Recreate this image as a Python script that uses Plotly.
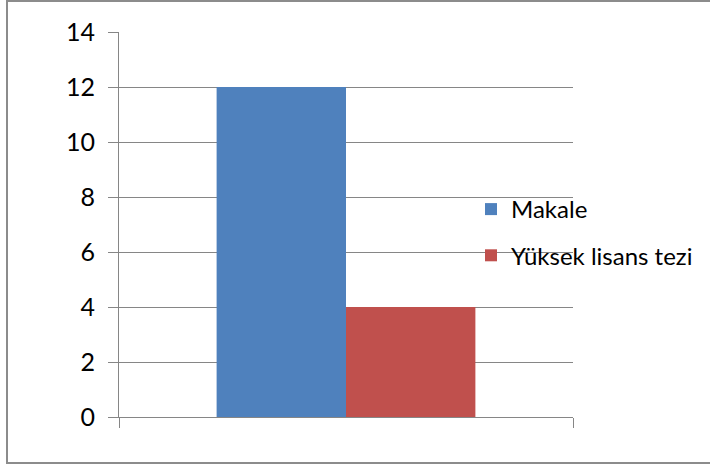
import plotly.graph_objects as go

categories = ["Yayın"]
series_names = ["Makale", "Yüksek lisans tezi"]
series_values = [[12], [4]]
series_colors = ["#4F81BD", "#C0504D"]
y_ticks = [0, 2, 4, 6, 8, 10, 12, 14]

W, H = 710, 468
L, R, T, B = 119, 137, 32, 51
pw, ph = W - L - R, H - T - B

fig = go.Figure()
for i, (name, vals, col) in enumerate(zip(series_names, series_values, series_colors)):
    fig.add_trace(go.Bar(x=categories, y=vals, name=name, marker=dict(color=col, line=dict(width=0)),
                         legendgroup=f"g{i}"))

grid = "#868686"
fig.update_layout(
    width=W, height=H,
    margin=dict(l=L, r=R, t=T, b=B, autoexpand=False),
    paper_bgcolor="white", plot_bgcolor="white",
    barmode="group", bargap=0.43, bargroupgap=0,
    font=dict(family="Lato, Carlito, Calibri, sans-serif", size=25, color="#000000"),
    showlegend=True,
    legend=dict(x=(471 - L) / pw, y=(417 - 187) / ph, xanchor="left", yanchor="top",
                bgcolor="rgba(0,0,0,0)", borderwidth=0, tracegroupgap=12,
                font=dict(size=24, color="#000000")),
    xaxis=dict(showticklabels=False, ticks="outside", tickson="boundaries", ticklen=10,
               tickcolor=grid, tickwidth=1, showline=True, linecolor=grid, linewidth=1,
               showgrid=False, zeroline=False),
    yaxis=dict(range=[0, 14], tickvals=y_ticks, ticks="outside", ticklen=10, tickcolor=grid,
               tickwidth=1, showline=True, linecolor=grid, linewidth=1, showgrid=True,
               gridcolor=grid, gridwidth=1, zeroline=False, ticklabelstandoff=8),
)

# outer chart border
fig.add_shape(type="rect", xref="paper", yref="paper",
              x0=(7 - L) / pw, x1=(715 - L) / pw,
              y0=(417 - 463) / ph, y1=(417 - 1) / ph,
              line=dict(color="#8C8C8C", width=2), fillcolor="rgba(0,0,0,0)", layer="below")

fig.write_html("out.html", config={"displayModeBar": False},
               post_script="document.body.style.margin='0';document.body.style.overflow='hidden';")
